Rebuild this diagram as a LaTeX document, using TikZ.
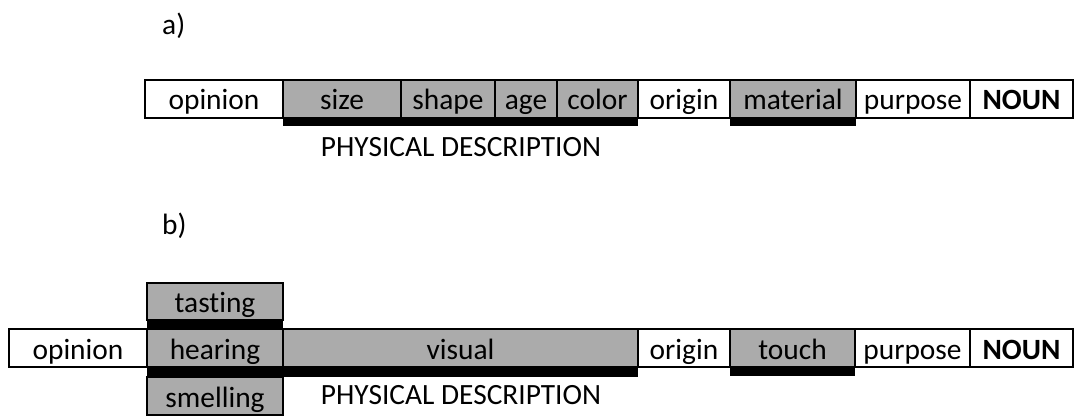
\documentclass[tikz,border=0pt]{standalone}
\usepackage{fontspec}
\setmainfont{Carlito}[Ligatures={NoCommon,NoRare}]
\definecolor{boxgray}{RGB}{171,171,171}

\begin{document}
\begin{tikzpicture}[x=0.5pt,y=-0.5pt,
    box/.style={draw, line width=1pt, rectangle, inner sep=0pt, outer sep=0pt, minimum height=19pt,
      text height=14pt, text depth=3pt, anchor=north west},
    greybox/.style={box, fill=boxgray},
    bar/.style={fill=black}]
    \useasboundingbox (0,0) rectangle (1076,417);
    \fontsize{14.7}{17}\selectfont
    % a)
    \node[anchor=base west] (labelA) at (152,35) {a)};
    \node[box, minimum width=69pt] (opinionA) at (145,80) {opinion};
    \node[greybox, minimum width=59pt] (sizeA) at (283,80) {size};
    \node[greybox, minimum width=47pt] (shapeA) at (401,80) {shape};
    \node[greybox, minimum width=31pt] (ageA) at (495,80) {age};
    \node[greybox, minimum width=40.5pt] (colorA) at (557,80) {color};
    \node[box, minimum width=46pt] (originA) at (638,80) {origin};
    \node[greybox, minimum width=63pt] (materialA) at (730,80) {material};
    \node[box, minimum width=57pt] (purposeA) at (856,80) {purpose};
    \node[box, minimum width=51.5pt] (nounA) at (970,80) {\textbf{NOUN}};
    \fill[bar] (sizeA.south west) rectangle ([yshift=-4pt]colorA.south east);
    \fill[bar] (materialA.south west) rectangle ([yshift=-4pt]materialA.south east);
    \node[anchor=base] (physA) at (461,156) {PHYSICAL DESCRIPTION};
    % b)
    \node[anchor=base west] (labelB) at (152,234) {b)};
    \node[greybox, minimum width=68pt, minimum height=18.5pt] (tastingB) at (147,283) {tasting};
    \node[box, minimum width=69pt] (opinionB) at (9,329) {opinion};
    \node[greybox, minimum width=68pt] (hearingB) at (147,329) {hearing};
    \node[greybox, minimum width=177.5pt] (visualB) at (283,329) {visual};
    \node[box, minimum width=46pt] (originB) at (638,329) {origin};
    \node[greybox, minimum width=62.5pt] (touchB) at (730,329) {touch};
    \node[box, minimum width=57.5pt] (purposeB) at (855,329) {purpose};
    \node[box, minimum width=51.5pt] (nounB) at (970,329) {\textbf{NOUN}};
    \node[greybox, minimum width=68pt] (smellingB) at (147,377) {smelling};
    \fill[bar] (tastingB.south west) rectangle (hearingB.north east);
    \fill[bar] (hearingB.south west) rectangle (visualB.south east |- smellingB.north);
    \fill[bar] (touchB.south west) rectangle ([yshift=-4.5pt]touchB.south east);
    \node[anchor=base] (physB) at (461,404) {PHYSICAL DESCRIPTION};
\end{tikzpicture}
\end{document}
